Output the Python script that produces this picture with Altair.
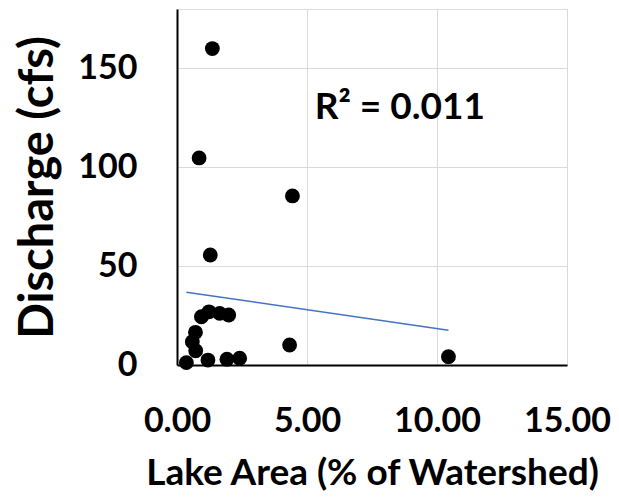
import altair as alt
import pandas as pd

lake_area = [1.36, 0.85, 4.44, 1.28, 0.94, 1.23, 1.64, 1.99, 0.71, 0.59, 0.72, 0.36, 1.19, 1.92, 2.41, 4.33, 10.44]
discharge = [160.0, 104.7, 85.5, 55.6, 24.4, 26.9, 26.1, 25.3, 16.5, 11.8, 7.2, 1.2, 2.5, 2.9, 3.4, 10.1, 4.2]
x_ticks = [0, 5, 10, 15]
y_ticks = [0, 50, 100, 150]
r2_label = ["R\u00b2 = 0.011"]
r2_pos_x = [8.57]
r2_pos_y = [130]

df = pd.DataFrame({"x": lake_area, "y": discharge})
lab = pd.DataFrame({"x": r2_pos_x, "y": r2_pos_y, "t": r2_label})

FONT = "Lato"

xenc = alt.X("x:Q", scale=alt.Scale(domain=[0, 15], nice=False, zero=True),
             axis=alt.Axis(values=x_ticks, format=".2f", title="Lake Area (% of Watershed)",
                           grid=True, gridColor="#d9d9d9", gridWidth=1,
                           domainColor="black", domainWidth=2, ticks=False, tickSize=0,
                           labelFont=FONT, labelFontSize=34, labelFontWeight="bold", labelColor="black",
                           labelPadding=66, labelBaseline="alphabetic", labelFlush=False,
                           titleFont=FONT, titleFontSize=37, titleFontWeight="bold", titleColor="black",
                           titleY=119, titleBaseline="alphabetic"))
yenc = alt.Y("y:Q", scale=alt.Scale(domain=[0, 180], nice=False),
             axis=alt.Axis(values=y_ticks, title="Discharge (cfs)",
                           grid=True, gridColor="#d9d9d9", gridWidth=1,
                           domainColor="black", domainWidth=2, ticks=False, tickSize=0,
                           labelFont=FONT, labelFontSize=34, labelFontWeight="bold", labelColor="black",
                           labelPadding=40, labelBaseline="middle",
                           titleFont=FONT, titleFontSize=47, titleFontWeight="bold", titleColor="black",
                           titleX=-139, titleY=178, titleBaseline="middle", titleAlign="center",
                           titleAngle=270))

points = alt.Chart(df).mark_point(filled=True, color="black", size=220, opacity=1, shape="circle").encode(x=xenc, y=yenc)

trend = alt.Chart(df).transform_regression("x", "y").mark_line(color="#4472C4", strokeWidth=1.5).encode(x="x:Q", y="y:Q")

text = alt.Chart(lab).mark_text(font=FONT, fontSize=37, fontWeight="bold", color="black").encode(
    x="x:Q", y="y:Q", text="t:N")

chart = alt.layer(trend, points, text).properties(
    width=390, height=356,
    autosize=alt.AutoSizeParams(type="none"),
    padding={"left": 177, "top": 9, "right": 52, "bottom": 132},
).configure_view(stroke=None).configure(background="white")

chart.save("out.html", embed_options={"renderer": "svg", "actions": False})
